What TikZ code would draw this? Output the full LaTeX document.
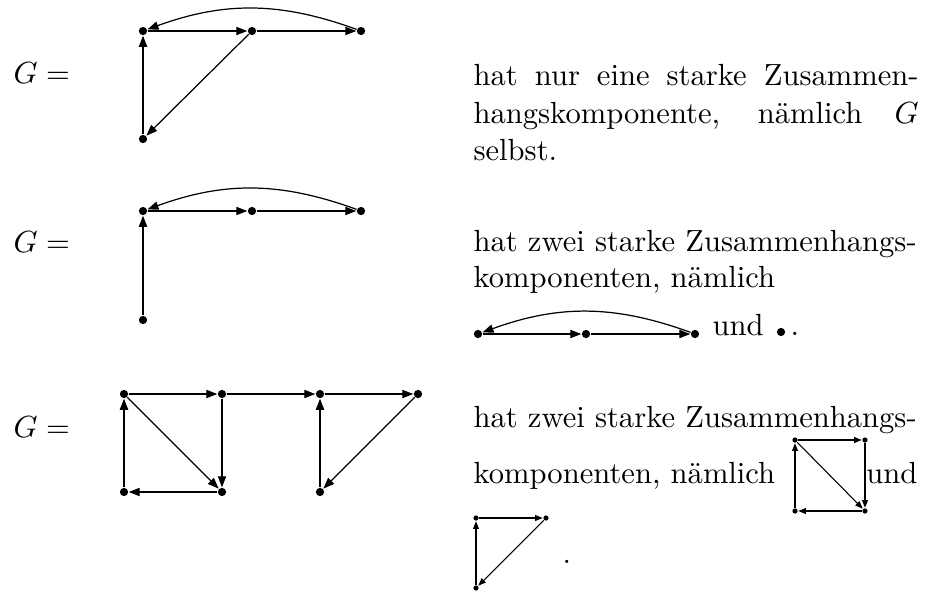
\documentclass[tikz,border=0pt]{standalone}
\usetikzlibrary{arrows.meta}
\begin{document}
\begin{tikzpicture}[x=0.327pt,y=-0.327pt,
    vert/.style={circle,fill=black,inner sep=0pt,minimum size=2.7pt},
    kvert/.style={circle,fill=black,inner sep=0pt,minimum size=1.7pt},
    pfeil/.style={-{Triangle[length=3.6pt,width=2.7pt]},line width=0.4pt},
    kpfeil/.style={-{Triangle[length=2.5pt,width=1.9pt]},line width=0.35pt},
    zeile/.style={anchor=base west,inner sep=0pt}]
  \useasboundingbox (0,0) rectangle (933,592);

  % erster Graph
  \node[zeile] (g1) at (13,83) {$G =$};
  \foreach \x [count=\i] in {143,252,361}{
    \node[vert] (a\i) at (\x,31) {};
  }
  \node[vert] (a4) at (143,139) {};
  \draw[pfeil] (a1) -- (a2);
  \draw[pfeil] (a2) -- (a3);
  \draw[pfeil] (a3) to[bend right=20] (a1);
  \draw[pfeil] (a4) -- (a1);
  \draw[pfeil] (a2) -- (a4);
  \node[zeile] (t11) at (473,85) {\makebox[145.5pt][s]{hat nur eine starke Zusammen-}};
  \node[zeile] (t12) at (473,123) {\makebox[145.5pt][s]{hangskomponente, nämlich $G$}};
  \node[zeile] (t13) at (473,160) {selbst.};

  % zweiter Graph
  \node[zeile] (g2) at (13,252) {$G =$};
  \foreach \x [count=\i] in {143,252,361}{
    \node[vert] (c\i) at (\x,211) {};
  }
  \node[vert] (c4) at (143,320) {};
  \draw[pfeil] (c1) -- (c2);
  \draw[pfeil] (c2) -- (c3);
  \draw[pfeil] (c3) to[bend right=20] (c1);
  \draw[pfeil] (c4) -- (c1);
  \node[zeile] (t21) at (473,251) {hat zwei starke Zusammenhangs-};
  \node[zeile] (t22) at (473,287) {komponenten, nämlich};
  \foreach \x [count=\i] in {478,586,695}{
    \node[vert] (b\i) at (\x,334) {};
  }
  \draw[pfeil] (b1) -- (b2);
  \draw[pfeil] (b2) -- (b3);
  \draw[pfeil] (b3) to[bend right=20] (b1);
  \node[zeile] (t23) at (712,335) {und};
  \node[vert] (b4) at (781,332) {};
  \node[zeile] (t24) at (790,335) {.};

  % dritter Graph
  \node[zeile] (g3) at (13,437) {$G =$};
  \foreach \x [count=\i] in {124,222,320,418}{
    \node[vert] (p\i) at (\x,394) {};
  }
  \foreach \x [count=\i] in {124,222,320}{
    \node[vert] (q\i) at (\x,492) {};
  }
  \foreach \s/\e in {p1/p2,p2/p3,p3/p4,q1/p1,p1/q2,p2/q2,q2/q1,q3/p3,p4/q3}{
    \draw[pfeil] (\s) -- (\e);
  }
  \node[zeile] (t31) at (473,427) {hat zwei starke Zusammenhangs-};
  \node[zeile] (t32) at (473,483) {komponenten, nämlich};
  \node[zeile,anchor=base east] (t33) at (918,483) {und};
  % Quadrat
  \node[kvert] (s1) at (795,440) {};
  \node[kvert] (s2) at (865,440) {};
  \node[kvert] (s3) at (865,511) {};
  \node[kvert] (s4) at (795,511) {};
  \foreach \s/\e in {s1/s2,s1/s3,s2/s3,s3/s4,s4/s1}{
    \draw[kpfeil] (\s) -- (\e);
  }
  % Dreieck
  \node[kvert] (d1) at (476,518) {};
  \node[kvert] (d2) at (546,518) {};
  \node[kvert] (d3) at (476,588) {};
  \foreach \s/\e in {d1/d2,d2/d3,d3/d1}{
    \draw[kpfeil] (\s) -- (\e);
  }
  \node[zeile] (t34) at (562,563) {.};
\end{tikzpicture}
\end{document}
